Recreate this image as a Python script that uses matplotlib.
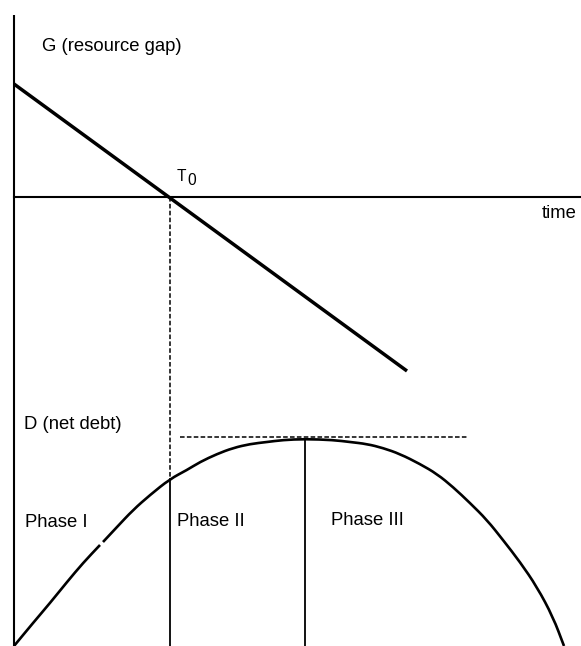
import matplotlib
matplotlib.use("Agg")
import matplotlib.pyplot as plt
from matplotlib.path import Path
from matplotlib.patches import PathPatch

plt.rcParams['font.family'] = ['Liberation Sans', 'DejaVu Sans']

# G (resource gap): straight line falling through zero at T0
gap_time = [0, 393]
gap_value = [113, -174]

# D (net debt) curve, split where the original drawing has a tiny break
debt_time_a = [0, 19, 36, 53, 69, 86]
debt_value_a = [0, 23, 43, 64, 83, 101]
debt_time_b = [89, 103, 119, 136, 156, 173, 186, 203, 219, 236, 253, 269, 291,
               319, 336, 353, 369, 386, 406, 423, 439, 456, 473, 489, 506, 523,
               539, 550]
debt_value_b = [104, 119, 136, 151, 167, 176, 184, 192, 198, 202, 204, 206, 207,
                206, 204, 202, 198, 192, 182, 172, 159, 143, 126, 106, 84, 59,
                29, 0]

t0 = 156          # time where G crosses zero
t_peak = 291      # time of maximum debt
d_at_t0 = 167
d_peak = 209
peak_dash_span = [166, 454]

phase_labels = ['Phase I', 'Phase II', 'Phase III']
phase_label_time = [11, 163, 317]
phase_label_level = [119, 120, 121]

# vertical layout (G panel sits above the D panel)
gap_axis_level = 449
top_of_axis = 631


def smooth_path(xs, ys):
    # quadratic bezier through the midpoints, read points act as controls
    pts = list(zip(xs, ys))
    verts = [pts[0]]
    codes = [Path.MOVETO]
    mid = lambda p, q: ((p[0] + q[0]) / 2, (p[1] + q[1]) / 2)
    verts.append(mid(pts[0], pts[1]))
    codes.append(Path.LINETO)
    for i in range(1, len(pts) - 1):
        verts += [pts[i], mid(pts[i], pts[i + 1])]
        codes += [Path.CURVE3, Path.CURVE3]
    verts.append(pts[-1])
    codes.append(Path.LINETO)
    return Path(verts, codes)


fig = plt.figure(figsize=(5.81, 6.46), dpi=100)
ax = fig.add_axes([0, 0, 1, 1])
ax.set_xlim(-14, 567)
ax.set_ylim(0, 646)
ax.axis('off')

# axes
ax.plot([0, 0], [0, top_of_axis], color='black', lw=1.5, solid_capstyle='butt')
ax.plot([0, 567], [gap_axis_level, gap_axis_level], color='black', lw=1.5)

# resource gap line
ax.plot(gap_time, [gap_axis_level + g for g in gap_value], color='black', lw=2.5,
        solid_capstyle='butt')

# net debt curve
for xs, ys in [(debt_time_a, debt_value_a), (debt_time_b, debt_value_b)]:
    ax.add_patch(PathPatch(smooth_path(xs, ys), fill=False, edgecolor='black',
                           lw=1.9, capstyle='butt'))

# T0 marker: dashed down to the curve, then solid phase boundary
ax.plot([t0, t0], [gap_axis_level, d_at_t0], color='black', lw=1.1,
        linestyle=(0, (3, 1.5)))
ax.plot([t0, t0], [d_at_t0, 0], color='black', lw=1.3)

# peak of debt
ax.plot(peak_dash_span, [d_peak, d_peak], color='black', lw=1.1,
        linestyle=(0, (3, 1.5)))
ax.plot([t_peak, t_peak], [d_peak - 2, 0], color='black', lw=1.3)

fs = 13.3
ax.text(28, 595, 'G (resource gap)', fontsize=fs, va='baseline', ha='left')
ax.text(10, 217, 'D (net debt)', fontsize=fs, va='baseline', ha='left')
ax.text(528, 428, 'time', fontsize=fs, va='baseline', ha='left')
ax.text(163, 465, 'T', fontsize=11.2, va='baseline', ha='left')
ax.text(173, 461, '0', fontsize=11.2, va='baseline', ha='left')

for lab, t, lev in zip(phase_labels, phase_label_time, phase_label_level):
    ax.text(t, lev, lab, fontsize=fs, va='baseline', ha='left')

fig.savefig('out.png', dpi=100, facecolor='white')
